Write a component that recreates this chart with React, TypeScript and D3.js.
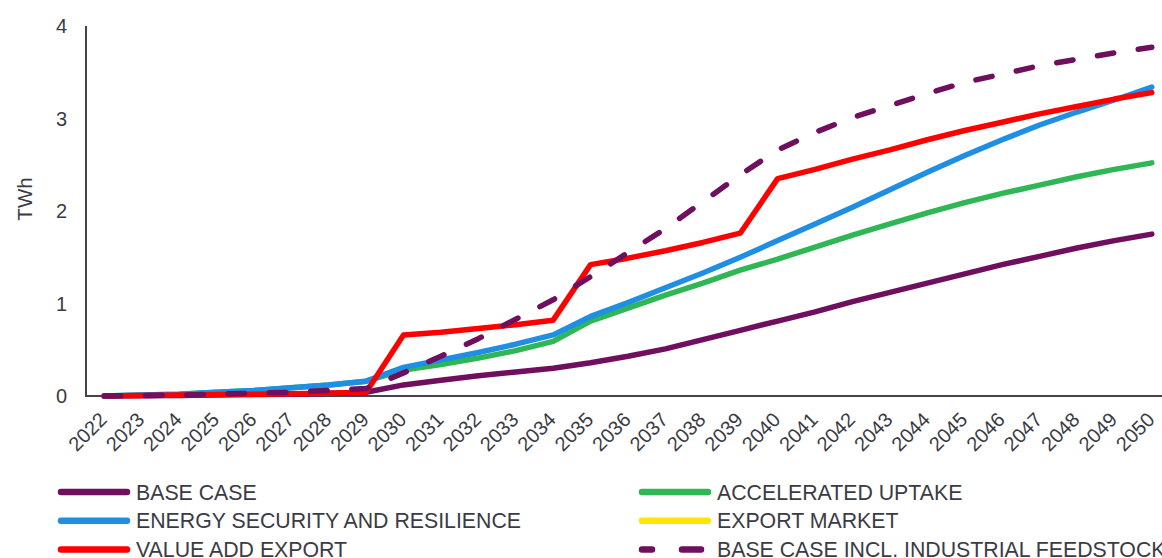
import React from "react";
import * as d3 from "d3";

const years = d3.range(2022, 2051).map(String);

const baseCase = [0, 0.003, 0.006, 0.01, 0.015, 0.02, 0.03, 0.04, 0.12, 0.17, 0.22, 0.26, 0.3, 0.36, 0.43, 0.51, 0.61, 0.71, 0.81, 0.91, 1.02, 1.12, 1.22, 1.32, 1.42, 1.51, 1.6, 1.68, 1.75];
const acceleratedUptake = [0, 0.01, 0.02, 0.04, 0.06, 0.09, 0.12, 0.16, 0.28, 0.34, 0.41, 0.49, 0.59, 0.81, 0.95, 1.09, 1.22, 1.36, 1.48, 1.61, 1.74, 1.86, 1.98, 2.09, 2.19, 2.28, 2.37, 2.45, 2.52];
const energySecurity = [0, 0.01, 0.02, 0.04, 0.06, 0.09, 0.12, 0.16, 0.31, 0.39, 0.47, 0.56, 0.66, 0.86, 1.01, 1.17, 1.33, 1.5, 1.68, 1.86, 2.04, 2.23, 2.42, 2.6, 2.77, 2.93, 3.07, 3.2, 3.34];
const exportMarket: number[] = [];
const valueAddExport = [0, 0.005, 0.01, 0.015, 0.02, 0.025, 0.03, 0.04, 0.66, 0.69, 0.73, 0.77, 0.82, 1.42, 1.49, 1.57, 1.66, 1.76, 2.35, 2.45, 2.56, 2.66, 2.77, 2.87, 2.96, 3.05, 3.13, 3.21, 3.28];
const baseCaseFeedstock = [0, 0.005, 0.01, 0.02, 0.03, 0.04, 0.06, 0.08, 0.25, 0.43, 0.62, 0.83, 1.04, 1.29, 1.55, 1.81, 2.1, 2.39, 2.66, 2.85, 3.01, 3.14, 3.27, 3.39, 3.48, 3.57, 3.64, 3.71, 3.77];

const yTicks = [0, 1, 2, 3, 4];

const PURPLE = "#6f0f5d";
const BLUE = "#1e8fe3";
const GREEN = "#2fb655";
const RED = "#ff0000";
const YELLOW = "#ffe600";
const TEXT = "#3b3b45";
const AXIS = "#44444c";
const FONT = "'Liberation Sans', Arial, sans-serif";

type Series = { name: string; values: number[]; color: string; dashed?: boolean };

const series: Series[] = [
  { name: "BASE CASE", values: baseCase, color: PURPLE },
  { name: "ACCELERATED UPTAKE", values: acceleratedUptake, color: GREEN },
  { name: "ENERGY SECURITY AND RESILIENCE", values: energySecurity, color: BLUE },
  { name: "EXPORT MARKET", values: exportMarket, color: YELLOW },
  { name: "VALUE ADD EXPORT", values: valueAddExport, color: RED },
  { name: "BASE CASE INCL. INDUSTRIAL FEEDSTOCK", values: baseCaseFeedstock, color: PURPLE, dashed: true },
];

const legendOrder = [
  "BASE CASE",
  "ACCELERATED UPTAKE",
  "ENERGY SECURITY AND RESILIENCE",
  "EXPORT MARKET",
  "VALUE ADD EXPORT",
  "BASE CASE INCL. INDUSTRIAL FEEDSTOCK",
];

export default function App() {
  const W = 1162;
  const H = 558;
  const x = d3.scaleBand<string>().domain(years).range([85.5, 1170.5]).padding(0);
  const bw = x.bandwidth();
  const cx = (yr: string) => (x(yr) as number) + bw / 2;
  const y = d3.scaleLinear().domain([0, 4]).range([396, 26]);

  const line = d3
    .line<number>()
    .x((_, i) => cx(years[i]))
    .y((v) => y(v));

  return (
    <div style={{ position: "absolute", left: 0, top: 0, width: W, height: H, overflow: "hidden", background: "#fff" }}>
      <svg width={W} height={H} style={{ display: "block", fontFamily: FONT }}>
        <rect width={W} height={H} fill="#fff" />
        {/* axes */}
        <line x1={86} x2={86} y1={y(4)} y2={y(0)} stroke={AXIS} strokeWidth={2} />
        <line x1={85} x2={W} y1={y(0)} y2={y(0)} stroke={AXIS} strokeWidth={2} />
        {yTicks.map((t) => (
          <text key={t} x={67} y={y(t)} dy="0.35em" textAnchor="end" fontSize={20} fill={TEXT}>
            {t}
          </text>
        ))}
        <text transform={`translate(32,${y(2) - 12}) rotate(-90)`} textAnchor="middle" fontSize={20.5} fill={TEXT}>
          TWh
        </text>
        {years.map((yr) => (
          <text
            key={yr}
            transform={`translate(${cx(yr) + 4},${y(0) + 25}) rotate(-45)`}
            textAnchor="end"
            fontSize={20}
            fill={TEXT}
          >
            {yr}
          </text>
        ))}
        {/* series */}
        {series.map((s) =>
          s.values.length ? (
            <path
              key={s.name}
              d={line(s.values) || ""}
              fill="none"
              stroke={s.color}
              strokeWidth={5.5}
              strokeLinejoin="round"
              strokeLinecap="round"
              strokeDasharray={s.dashed ? "16.5 24.8" : undefined}
            />
          ) : null
        )}
        {/* legend */}
        {legendOrder.map((name, i) => {
          const s = series.find((d) => d.name === name)!;
          const col = i % 2;
          const row = Math.floor(i / 2);
          const lx = col === 0 ? 58 : 639;
          const ly = 492 + row * 28.7;
          return (
            <g key={name}>
              <line
                x1={lx + 3}
                x2={lx + 69}
                y1={ly}
                y2={ly}
                stroke={s.color}
                strokeWidth={6.5}
                strokeLinecap="round"
                strokeDasharray={s.dashed ? "10 30 19 100" : undefined}
              />
              <text x={lx + 78} y={ly} dy="0.36em" fontSize={21.3} fill={TEXT}>
                {name}
              </text>
            </g>
          );
        })}
      </svg>
    </div>
  );
}
